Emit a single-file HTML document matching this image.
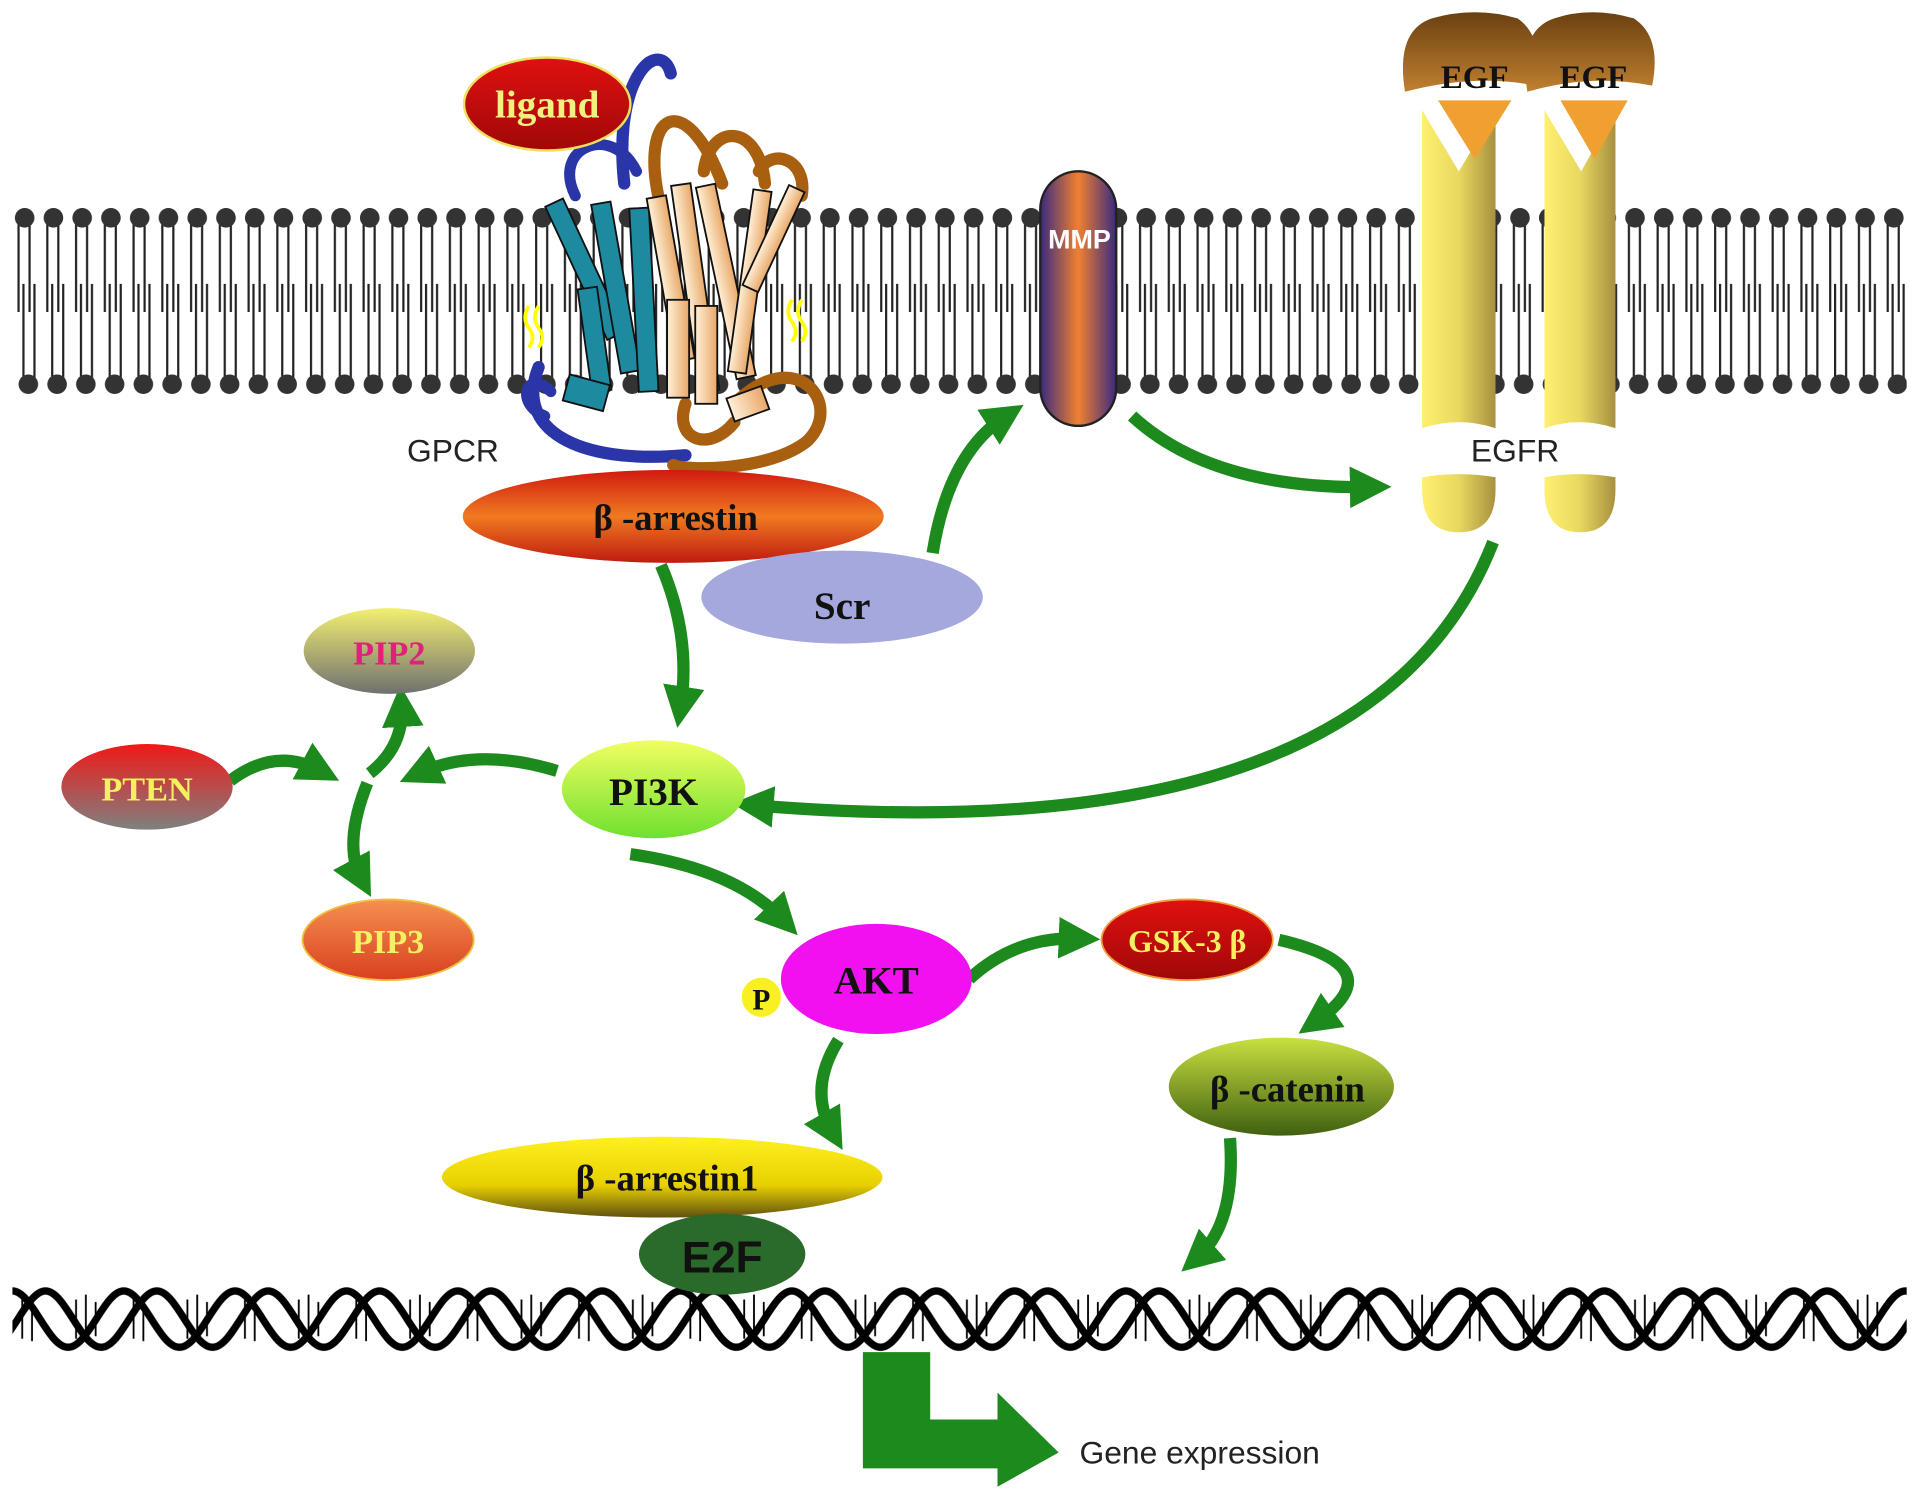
<!DOCTYPE html>
<html><head><meta charset="utf-8"><style>
html,body{margin:0;padding:0;background:#fff}
svg{display:block}
.b{font-family:"Liberation Serif",serif;font-weight:bold}
.a{font-family:"Liberation Sans",sans-serif}
</style></head><body>
<svg width="1913" height="1499" viewBox="0 0 1563 1225" xmlns="http://www.w3.org/2000/svg">
<defs>
<pattern id="mem" x="10" y="0" width="23.5" height="1225" patternUnits="userSpaceOnUse">
<line x1="5" y1="180" x2="5" y2="255" stroke="#222" stroke-width="1.8"/>
<line x1="14" y1="180" x2="14" y2="255" stroke="#222" stroke-width="1.8"/>
<line x1="9" y1="312" x2="9" y2="232" stroke="#222" stroke-width="1.8"/>
<line x1="18" y1="312" x2="18" y2="232" stroke="#222" stroke-width="1.8"/>
<circle cx="10" cy="178" r="8" fill="#333"/>
<circle cx="13" cy="314" r="8" fill="#333"/>
</pattern>
<pattern id="dna" x="10" y="1048" width="91" height="62" patternUnits="userSpaceOnUse">
<g stroke="#000" stroke-width="1.5">
<line x1="8" y1="14" x2="8" y2="46"/><line x1="16" y1="10" x2="16" y2="48"/>
<line x1="52" y1="14" x2="52" y2="46"/><line x1="60" y1="10" x2="60" y2="48"/><line x1="68" y1="16" x2="68" y2="44"/>
</g>
<g fill="none" stroke="#000" stroke-width="6">
<path d="M-45.5,53 C-29,53 -16,7 0,7 C16,7 29,53 45.5,53 C62,53 75,7 91,7 C107,7 120,53 136.5,53"/>
<path d="M-18.5,53 C-2,53 11,7 27,7 C43,7 56,53 72.5,53 C89,53 102,7 118,7"/>
</g>
</pattern>
<marker id="ah" viewBox="0 0 10 10" refX="5" refY="5" markerWidth="34" markerHeight="34" markerUnits="userSpaceOnUse" orient="auto">
<path d="M0,0 L10,5 L0,10 z" fill="#1d8a1d"/>
</marker>
<linearGradient id="gArr" x1="0" y1="0" x2="0" y2="1"><stop offset="0" stop-color="#d01a10"/><stop offset=".5" stop-color="#f07a20"/><stop offset="1" stop-color="#c01a10"/></linearGradient>
<linearGradient id="gRed" x1="0" y1="0" x2="0" y2="1"><stop offset="0" stop-color="#e01010"/><stop offset="1" stop-color="#a00808"/></linearGradient>
<linearGradient id="gPip2" x1="0" y1="0" x2="0" y2="1"><stop offset="0" stop-color="#f2f070"/><stop offset="1" stop-color="#707070"/></linearGradient>
<linearGradient id="gPten" x1="0" y1="0" x2="0" y2="1"><stop offset="0" stop-color="#f01818"/><stop offset="1" stop-color="#808080"/></linearGradient>
<linearGradient id="gPi3k" x1="0" y1="0" x2="0" y2="1"><stop offset="0" stop-color="#f0ff60"/><stop offset="1" stop-color="#70e030"/></linearGradient>
<linearGradient id="gPip3" x1="0" y1="0" x2="0" y2="1"><stop offset="0" stop-color="#f59050"/><stop offset="1" stop-color="#d84020"/></linearGradient>
<linearGradient id="gCat" x1="0" y1="0" x2="0" y2="1"><stop offset="0" stop-color="#c8e040"/><stop offset="1" stop-color="#406010"/></linearGradient>
<linearGradient id="gArr1" x1="0" y1="0" x2="0" y2="1"><stop offset="0" stop-color="#fff020"/><stop offset=".6" stop-color="#e8d000"/><stop offset="1" stop-color="#605010"/></linearGradient>
<linearGradient id="gMmp" x1="0" y1="0" x2="1" y2="0"><stop offset="0" stop-color="#3a2a80"/><stop offset=".5" stop-color="#f08030"/><stop offset="1" stop-color="#3a2a80"/></linearGradient>
<linearGradient id="gEgfr" x1="0" y1="0" x2="1" y2="0"><stop offset="0" stop-color="#fff070"/><stop offset=".5" stop-color="#e8d860"/><stop offset="1" stop-color="#a89040"/></linearGradient>
<linearGradient id="gEgf" x1="0" y1="0" x2="0" y2="1"><stop offset="0" stop-color="#6a4010"/><stop offset="1" stop-color="#c08030"/></linearGradient>
<linearGradient id="gTan" x1="0" y1="0" x2="1" y2="0"><stop offset="0" stop-color="#fff0d8"/><stop offset="1" stop-color="#e8a868"/></linearGradient>
</defs>

<rect x="10" y="165" width="1548" height="160" fill="url(#mem)"/>
<rect x="10" y="1045" width="1548" height="66" fill="url(#dna)"/>

<!-- GPCR -->
<g stroke-linecap="round" fill="none">
<path d="M440,300 C420,350 470,380 560,372" stroke="#2a35a8" stroke-width="10"/>
<path d="M510,150 C500,60 540,30 548,60" stroke="#2a35a8" stroke-width="10"/>
<path d="M470,160 C450,120 500,100 520,140" stroke="#2a35a8" stroke-width="9"/>
<path d="M450,320 C430,300 420,330 445,340" stroke="#2a35a8" stroke-width="9"/>
</g>
<g stroke="#111" stroke-width="1.5" fill="#1e8aa0">
<rect x="470" y="160" width="16" height="120" transform="rotate(-25 478 220)"/>
<rect x="495" y="165" width="16" height="140" transform="rotate(-10 503 235)"/>
<rect x="518" y="170" width="16" height="150" transform="rotate(-3 526 245)"/>
<rect x="478" y="235" width="16" height="85" transform="rotate(-8 486 280)"/>
<rect x="462" y="310" width="34" height="22" transform="rotate(15 479 321)"/>
</g>
<g fill="none" stroke="#a86010" stroke-width="10" stroke-linecap="round">
<path d="M540,170 C520,90 560,70 590,150"/>
<path d="M575,140 C580,100 620,100 625,150"/>
<path d="M620,140 C630,120 660,130 655,160"/>
<path d="M600,330 C650,280 690,330 660,360 C630,385 560,385 550,380"/>
<path d="M560,330 C550,360 580,370 600,345"/>
</g>
<g stroke="#111" stroke-width="1.5" fill="url(#gTan)">
<rect x="540" y="160" width="16" height="135" transform="rotate(-10 548 228)"/>
<rect x="560" y="150" width="16" height="170" transform="rotate(-8 568 235)"/>
<rect x="585" y="150" width="16" height="160" transform="rotate(-12 593 230)"/>
<rect x="605" y="155" width="15" height="150" transform="rotate(8 612 230)"/>
<rect x="625" y="150" width="14" height="90" transform="rotate(25 632 195)"/>
<rect x="545" y="245" width="18" height="80"/>
<rect x="568" y="250" width="18" height="80"/>
<rect x="596" y="320" width="30" height="20" transform="rotate(-20 611 330)"/>
</g>
<g stroke="#ff0" stroke-width="3" fill="none"><path d="M432,250 q-6,10 0,18 q6,8 0,16 M440,250 q-6,10 0,18 q6,8 0,16"/><path d="M647,245 q-6,10 0,18 q6,8 0,16 M655,245 q-6,10 0,18 q6,8 0,16"/></g>

<ellipse cx="447" cy="85" rx="68" ry="38" fill="url(#gRed)" stroke="#f0e060" stroke-width="2"/>
<text x="447" y="96" class="b" font-size="32" fill="#f4f080" text-anchor="middle">ligand</text>
<text x="370" y="377" class="a" font-size="26" fill="#222" text-anchor="middle">GPCR</text>

<!-- MMP -->
<rect x="850" y="140" width="62" height="208" rx="31" fill="url(#gMmp)" stroke="#222" stroke-width="2"/>
<text x="882" y="203" class="a" font-size="22" font-weight="bold" fill="#fff" text-anchor="middle">MMP</text>

<!-- EGFR -->
<g fill="url(#gEgfr)">
<path d="M1162,90 L1192,140 L1222,90 L1222,350 Q1192,340 1162,350 Z"/>
<path d="M1262,90 L1292,140 L1320,90 L1320,350 Q1290,340 1262,350 Z"/>
<path d="M1162,390 Q1192,385 1222,390 L1222,400 Q1222,435 1192,435 Q1162,435 1162,400 Z"/>
<path d="M1262,390 Q1290,385 1320,390 L1320,400 Q1320,435 1291,435 Q1262,435 1262,400 Z"/>
</g>
<path d="M1175,82 L1205,130 L1235,82 Z" fill="#f0a030"/>
<path d="M1275,82 L1303,130 L1330,82 Z" fill="#f0a030"/>
<path d="M1148,75 Q1140,25 1170,15 Q1205,5 1240,15 Q1262,30 1255,70 Q1205,60 1148,75 Z" fill="url(#gEgf)"/>
<path d="M1248,75 Q1240,25 1270,15 Q1300,5 1335,15 Q1358,30 1350,70 Q1300,60 1248,75 Z" fill="url(#gEgf)"/>
<text x="1205" y="72" class="b" font-size="27" fill="#111" text-anchor="middle">EGF</text>
<text x="1302" y="72" class="b" font-size="27" fill="#111" text-anchor="middle">EGF</text>
<text x="1238" y="377" class="a" font-size="26" fill="#222" text-anchor="middle">EGFR</text>

<!-- arrows -->
<g fill="none" stroke="#1d8a1d" stroke-width="10" marker-end="url(#ah)">
<path d="M540,462 Q565,520 556,578"/>
<path d="M762,452 Q775,370 822,340"/>
<path d="M925,340 Q990,400 1120,398"/>
<path d="M1220,443 Q1120,700 615,658"/>
<path d="M455,630 Q390,610 342,632"/>
<path d="M188,638 Q225,610 262,630"/>
<path d="M302,632 Q330,610 328,577"/>
<path d="M300,640 Q280,690 295,718"/>
<path d="M515,698 Q600,710 640,752"/>
<path d="M792,800 Q830,765 882,767"/>
<path d="M1045,768 Q1140,790 1075,835"/>
<path d="M685,850 Q660,890 680,925"/>
<path d="M1005,930 Q1010,1000 978,1028"/>
</g>

<!-- nodes -->
<ellipse cx="550" cy="422" rx="172" ry="38" fill="url(#gArr)"/>
<text x="552" y="433" class="b" font-size="30" fill="#111" text-anchor="middle">β -arrestin</text>
<ellipse cx="688" cy="488" rx="115" ry="38" fill="#a4a8dc"/>
<text x="688" y="506" class="b" font-size="32" fill="#111" text-anchor="middle">Scr</text>
<ellipse cx="318" cy="532" rx="70" ry="35" fill="url(#gPip2)"/>
<text x="318" y="543" class="b" font-size="28" fill="#e0207a" text-anchor="middle">PIP2</text>
<ellipse cx="120" cy="643" rx="70" ry="35" fill="url(#gPten)"/>
<text x="120" y="654" class="b" font-size="28" fill="#f4f060" text-anchor="middle">PTEN</text>
<ellipse cx="534" cy="645" rx="75" ry="40" fill="url(#gPi3k)"/>
<text x="534" y="658" class="b" font-size="32" fill="#111" text-anchor="middle">PI3K</text>
<ellipse cx="317" cy="768" rx="70" ry="33" fill="url(#gPip3)" stroke="#f0c040" stroke-width="1.5"/>
<text x="317" y="779" class="b" font-size="28" fill="#f4f060" text-anchor="middle">PIP3</text>
<ellipse cx="716" cy="800" rx="78" ry="45" fill="#f010f0"/>
<text x="716" y="812" class="b" font-size="32" fill="#111" text-anchor="middle">AKT</text>
<circle cx="622" cy="815" r="16" fill="#f8f020"/>
<text x="622" y="825" class="b" font-size="24" fill="#111" text-anchor="middle">P</text>
<ellipse cx="970" cy="768" rx="70" ry="33" fill="url(#gRed)" stroke="#f0a040" stroke-width="1.5"/>
<text x="970" y="778" class="b" font-size="26" fill="#f4f060" text-anchor="middle">GSK-3 β</text>
<ellipse cx="1047" cy="888" rx="92" ry="40" fill="url(#gCat)"/>
<text x="1052" y="900" class="b" font-size="30" fill="#111" text-anchor="middle">β -catenin</text>
<ellipse cx="541" cy="962" rx="180" ry="33" fill="url(#gArr1)"/>
<text x="545" y="973" class="b" font-size="30" fill="#111" text-anchor="middle">β -arrestin1</text>
<ellipse cx="590" cy="1025" rx="68" ry="33" fill="#2a6a2a"/>
<text x="590" y="1040" class="a" font-size="36" font-weight="bold" fill="#111" text-anchor="middle">E2F</text>

<!-- gene expression arrow -->
<path d="M705,1105 L760,1105 L760,1160 L815,1160 L815,1138 L865,1187 L815,1215 L815,1200 L705,1200 Z" fill="#1d8a1d"/>
<text x="882" y="1196" class="a" font-size="26" fill="#222">Gene expression</text>
</svg>
</body></html>
